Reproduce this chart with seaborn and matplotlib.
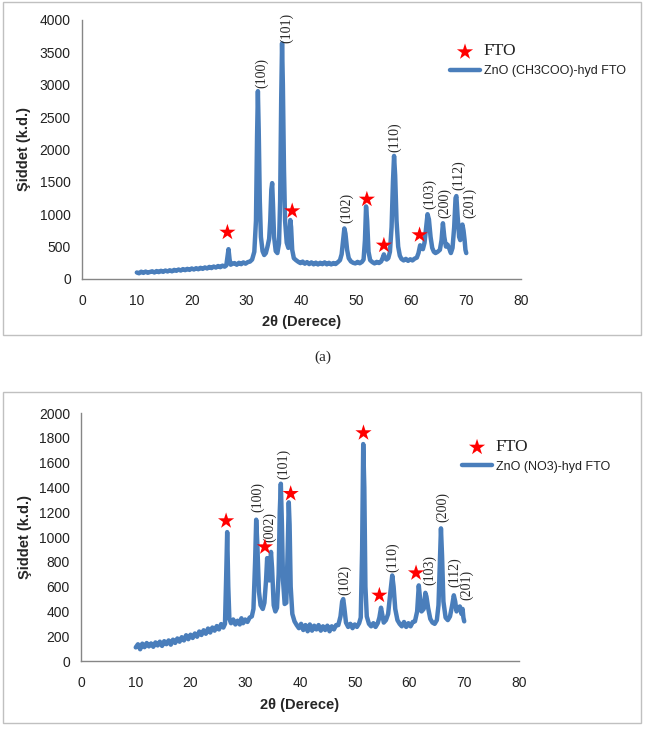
import numpy as np
import pandas as pd
import matplotlib
matplotlib.use("Agg")
import matplotlib.pyplot as plt
import seaborn as sns
from matplotlib.patches import Rectangle

# (a) ZnO (CH3COO)-hyd FTO
theta_a = [
    10.0, 10.4, 10.8, 11.2, 11.6, 12.0, 12.4, 12.8, 13.2, 13.6,
    14.0, 14.4, 14.8, 15.2, 15.6, 16.0, 16.4, 16.8, 17.2, 17.6,
    18.0, 18.4, 18.8, 19.2, 19.6, 20.0, 20.4, 20.8, 21.2, 21.6,
    22.0, 22.4, 22.8, 23.2, 23.6, 24.0, 24.4, 24.8, 25.2, 25.6,
    26.0, 26.3, 26.5, 26.7, 26.9, 27.1, 27.4, 27.8, 28.2, 28.6,
    29.0, 29.4, 29.8, 30.2, 30.6, 31.0, 31.4, 31.7, 31.9, 32.05,
    32.2, 32.4, 32.6, 32.9, 33.2, 33.5, 33.8, 34.1, 34.3, 34.5,
    34.65, 34.8, 35.0, 35.3, 35.6, 35.9, 36.1, 36.3, 36.45, 36.6,
    36.8, 37.0, 37.3, 37.6, 37.8, 37.95, 38.1, 38.3, 38.6, 39.0,
    39.4, 39.8, 40.2, 40.6, 41.0, 41.4, 41.8, 42.2, 42.6, 43.0,
    43.4, 43.8, 44.2, 44.6, 45.0, 45.4, 45.8, 46.2, 46.6, 47.0,
    47.3, 47.6, 47.8, 48.0, 48.3, 48.6, 49.0, 49.4, 49.8, 50.2,
    50.6, 51.0, 51.3, 51.55, 51.75, 51.95, 52.2, 52.5, 52.9, 53.3,
    53.7, 54.1, 54.5, 54.8, 55.0, 55.2, 55.5, 55.8, 56.1, 56.4,
    56.65, 56.85, 57.05, 57.3, 57.6, 57.9, 58.2, 58.6, 59.0, 59.4,
    59.8, 60.2, 60.6, 61.0, 61.3, 61.6, 61.8, 62.1, 62.4, 62.7,
    62.95, 63.2, 63.5, 63.8, 64.1, 64.4, 64.8, 65.2, 65.5, 65.75,
    66.0, 66.3, 66.6, 66.9, 67.2, 67.5, 67.8, 68.05, 68.2, 68.4,
    68.7, 68.9, 69.1, 69.3, 69.5, 69.7, 69.85, 70.0,
]
counts_a = [
    100, 88, 112, 94, 114, 96, 108, 118, 100, 122,
    106, 126, 110, 130, 116, 134, 118, 140, 126, 146,
    130, 152, 136, 156, 140, 162, 146, 166, 150, 172,
    156, 178, 162, 186, 168, 192, 176, 200, 182, 206,
    190, 210, 330, 460, 300, 220, 235, 245, 220, 250,
    228, 256, 236, 260, 268, 300, 420, 900, 2200, 2900,
    2300, 1200, 650, 430, 370, 400, 500, 620, 900, 1380,
    1480, 1150, 650, 430, 400, 550, 1200, 2800, 3640, 3000,
    1700, 900, 560, 480, 620, 910, 800, 450, 320, 290,
    265, 245, 268, 236, 260, 230, 256, 226, 252, 224,
    250, 228, 256, 226, 250, 224, 246, 230, 258, 290,
    380, 620, 780, 700, 450, 320, 270, 250, 240, 264,
    242, 264, 300, 600, 1120, 900, 420, 290, 260, 240,
    264, 246, 270, 330, 380, 320, 300, 320, 420, 800,
    1500, 1900, 1600, 900, 500, 360, 310, 286, 310, 280,
    304, 286, 314, 330, 400, 520, 500, 460, 560, 800,
    1000, 920, 650, 480, 420, 400, 420, 450, 600, 860,
    650, 500, 530, 470, 400, 480, 800, 1250, 1280, 1000,
    650, 600, 780, 840, 750, 600, 450, 400,
]

# (b) ZnO (NO3)-hyd FTO
theta_b = [
    10.0, 10.4, 10.8, 11.2, 11.6, 12.0, 12.4, 12.8, 13.2, 13.6,
    14.0, 14.4, 14.8, 15.2, 15.6, 16.0, 16.4, 16.8, 17.2, 17.6,
    18.0, 18.4, 18.8, 19.2, 19.6, 20.0, 20.4, 20.8, 21.2, 21.6,
    22.0, 22.4, 22.8, 23.2, 23.6, 24.0, 24.4, 24.8, 25.2, 25.6,
    26.0, 26.3, 26.5, 26.7, 26.9, 27.1, 27.4, 27.8, 28.2, 28.6,
    29.0, 29.3, 29.6, 30.0, 30.4, 30.8, 31.2, 31.5, 31.8, 32.0,
    32.2, 32.5, 32.8, 33.2, 33.5, 33.8, 34.0, 34.2, 34.4, 34.7,
    34.9, 35.2, 35.5, 35.8, 36.1, 36.3, 36.5, 36.7, 36.9, 37.2,
    37.5, 37.75, 37.95, 38.1, 38.3, 38.6, 39.0, 39.4, 39.8, 40.2,
    40.6, 41.0, 41.4, 41.8, 42.2, 42.6, 43.0, 43.4, 43.8, 44.2,
    44.6, 45.0, 45.4, 45.8, 46.2, 46.6, 47.0, 47.4, 47.7, 47.9,
    48.1, 48.4, 48.8, 49.2, 49.6, 50.0, 50.4, 50.8, 51.1, 51.35,
    51.55, 51.75, 51.95, 52.2, 52.6, 53.0, 53.4, 53.8, 54.2, 54.5,
    54.8, 55.0, 55.3, 55.7, 56.1, 56.5, 56.85, 57.1, 57.4, 57.8,
    58.2, 58.6, 59.0, 59.4, 59.8, 60.2, 60.6, 61.0, 61.4, 61.7,
    61.9, 62.2, 62.6, 62.9, 63.1, 63.4, 63.8, 64.2, 64.6, 65.0,
    65.3, 65.55, 65.75, 65.95, 66.2, 66.6, 67.0, 67.4, 67.8, 68.1,
    68.35, 68.6, 68.9, 69.2, 69.5, 69.7, 69.85, 70.0,
]
counts_b = [
    110, 135, 95, 140, 112, 145, 118, 142, 115, 150,
    126, 156, 122, 160, 136, 166, 132, 172, 146, 182,
    156, 192, 166, 208, 176, 212, 186, 222, 196, 238,
    210, 248, 220, 262, 230, 270, 245, 282, 255, 298,
    270, 300, 650, 1040, 600, 340, 305, 335, 295, 325,
    295, 345, 305, 335, 315, 350, 360, 420, 800, 1140,
    950, 560, 450, 420, 470, 650, 830, 700, 650, 880,
    750, 450, 400, 430, 700, 1200, 1430, 1100, 650, 460,
    470, 900, 1280, 1100, 600, 380, 320, 290, 265, 300,
    250, 290, 240, 295, 245, 285, 255, 290, 245, 280,
    250, 285, 240, 280, 255, 290, 290, 360, 480, 500,
    430, 310, 275, 300, 265, 295, 275, 305, 350, 900,
    1750, 1400, 600, 360, 300, 280, 305, 275, 305, 350,
    430, 380, 310, 330, 380, 550, 690, 600, 420, 330,
    300, 280, 315, 275, 305, 280, 315, 320, 400, 610,
    520, 400, 420, 550, 520, 430, 340, 310, 300, 330,
    450, 800, 1070, 850, 480, 350, 330, 360, 450, 530,
    480, 400, 430, 440, 380, 420, 350, 320,
]

# FTO star markers
fto_theta_a = [26.5, 38.3, 51.9, 55.0, 61.5]
fto_int_a = [720, 1050, 1230, 520, 680]
fto_theta_b = [26.5, 33.6, 38.3, 51.6, 54.5, 61.2]
fto_int_b = [1130, 920, 1350, 1840, 530, 710]

# hkl labels (x, bottom of text)
hkl_a = ["(100)", "(101)", "(102)", "(110)", "(103)", "(200)", "(112)", "(201)"]
hkl_a_x = [32.8, 37.2, 48.2, 57.0, 63.4, 66.0, 68.6, 70.6]
hkl_a_y = [2950, 3645, 865, 1966, 1081, 942, 1374, 942]
hkl_b = ["(100)", "(002)", "(101)", "(102)", "(110)", "(103)", "(200)", "(112)", "(201)"]
hkl_b_x = [32.2, 34.5, 36.95, 48.1, 56.9, 63.7, 66.1, 68.3, 70.45]
hkl_b_y = [1204, 962, 1465, 532, 720, 613, 1123, 600, 492]

BLUE = "#4a7ebb"
GRAY = "#868686"

sns.set_style("white")
plt.rcParams["font.family"] = ["Liberation Sans", "DejaVu Sans"]

fig = plt.figure(figsize=(6.45, 7.38), dpi=100)

# outer frames
fig.patches.append(Rectangle((0.004, 0.546), 0.99, 0.451, transform=fig.transFigure,
                             fill=False, edgecolor="#c0c0c0", linewidth=1))
fig.patches.append(Rectangle((0.004, 0.021), 0.99, 0.448, transform=fig.transFigure,
                             fill=False, edgecolor="#c0c0c0", linewidth=1))

ax1 = fig.add_axes([0.127, 0.622, 0.681, 0.351])
ax2 = fig.add_axes([0.1256, 0.1043, 0.679, 0.336])


def draw(ax, theta, counts, fto_x, fto_y, hkl, hx, hy, name, ymax, ystep, leg_x, leg_y):
    df = pd.DataFrame({"theta": theta, "counts": counts})
    sns.lineplot(data=df, x="theta", y="counts", ax=ax, color=BLUE, linewidth=3.2,
                 estimator=None, sort=False, label=name)
    sns.scatterplot(x=fto_x, y=fto_y, ax=ax, marker="*", s=150, color="#ff0000",
                    edgecolor="none", label="FTO", zorder=5)
    for t, x, y in zip(hkl, hx, hy):
        ax.text(x, y, t, rotation=90, ha="center", va="bottom", fontsize=10,
                family="Liberation Serif", clip_on=False)
    ax.set_xlim(0, 80)
    ax.set_ylim(0, ymax)
    ax.set_xticks(range(0, 81, 10))
    ax.set_yticks(range(0, ymax + 1, ystep))
    for s in ["top", "right"]:
        ax.spines[s].set_visible(False)
    for s in ["left", "bottom"]:
        ax.spines[s].set_color(GRAY)
        ax.spines[s].set_linewidth(1)
    ax.tick_params(axis="both", direction="out", length=5, width=1, color=GRAY,
                   labelsize=10, labelcolor="#222222", pad=3)
    ax.tick_params(axis="x", pad=6)
    ax.set_xlabel("2θ (Derece)", fontsize=10.5, fontweight="bold")
    ax.set_ylabel("Şiddet (k.d.)", fontsize=10.5, fontweight="bold")
    handles, labels = ax.get_legend_handles_labels()
    leg = ax.legend([handles[1], handles[0]], [labels[1], labels[0]],
                    loc="upper left", bbox_to_anchor=(leg_x, leg_y), frameon=False,
                    borderaxespad=0, borderpad=0, handlelength=2.4, handletextpad=0.3,
                    labelspacing=0.5, fontsize=9)
    leg.get_texts()[0].set_fontfamily("Liberation Serif")
    leg.get_texts()[0].set_fontsize(12.5)
    leg.get_texts()[0].set_color("#222222")
    leg.get_texts()[1].set_color("#222222")
    return ax


draw(ax1, theta_a, counts_a, fto_theta_a, fto_int_a, hkl_a, hkl_a_x, hkl_a_y,
     "ZnO (CH3COO)-hyd FTO", 4000, 500, 0.838, 0.91)
ax1.yaxis.set_label_coords(-0.115, 0.5)
ax1.xaxis.set_label_coords(0.5, -0.14)

draw(ax2, theta_b, counts_b, fto_theta_b, fto_int_b, hkl_b, hkl_b_x, hkl_b_y,
     "ZnO (NO3)-hyd FTO", 2000, 200, 0.87, 0.897)
ax2.yaxis.set_label_coords(-0.113, 0.5)
ax2.xaxis.set_label_coords(0.5, -0.15)

fig.text(0.5, 0.516, "(a)", ha="center", va="center", fontsize=11,
         family="Liberation Serif")

fig.savefig("out.png", dpi=100)
